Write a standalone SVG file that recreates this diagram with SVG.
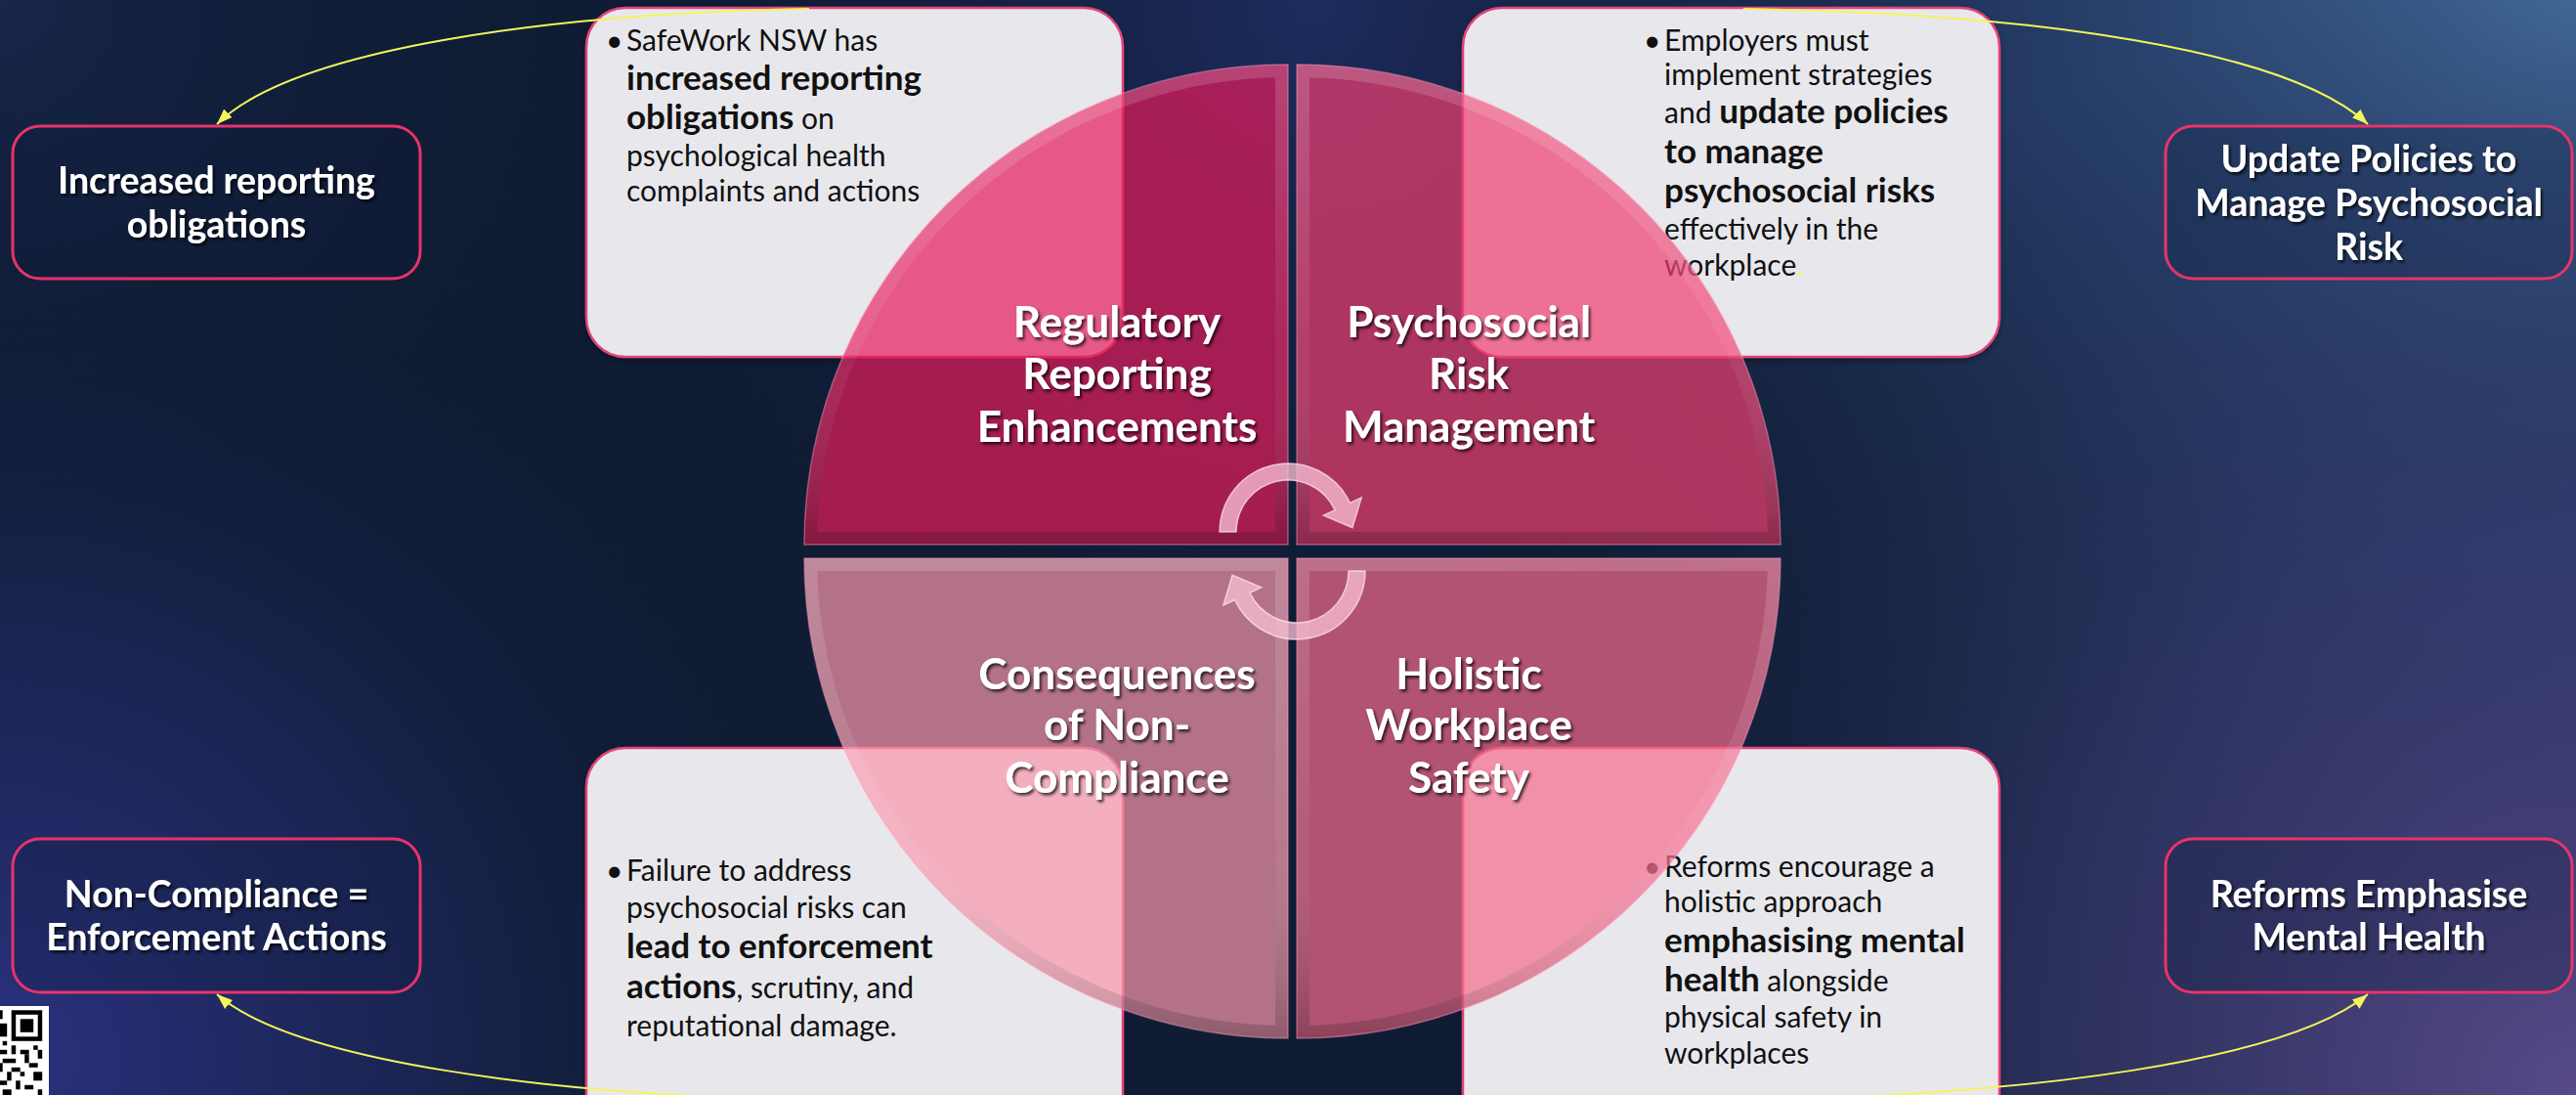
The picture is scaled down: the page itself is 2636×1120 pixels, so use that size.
<svg xmlns="http://www.w3.org/2000/svg" width="2636" height="1120" viewBox="0 0 2636 1120">
<defs>
<radialGradient id="bgTR" gradientUnits="userSpaceOnUse" cx="2636" cy="0" r="1300"><stop offset="0" stop-color="#42699a"/><stop offset="0.45" stop-color="#2c4676" stop-opacity="0.7"/><stop offset="1" stop-color="#0f1c34" stop-opacity="0"/></radialGradient>
<radialGradient id="bgBR" gradientUnits="userSpaceOnUse" cx="2636" cy="1120" r="1150"><stop offset="0" stop-color="#584a8a"/><stop offset="0.5" stop-color="#3a3a70" stop-opacity="0.6"/><stop offset="1" stop-color="#0f1c34" stop-opacity="0"/></radialGradient>
<radialGradient id="bgBL" gradientUnits="userSpaceOnUse" cx="0" cy="1080" r="850"><stop offset="0" stop-color="#2a3280"/><stop offset="0.5" stop-color="#222a66" stop-opacity="0.6"/><stop offset="1" stop-color="#0f1c34" stop-opacity="0"/></radialGradient>
<radialGradient id="bgT" gradientUnits="userSpaceOnUse" cx="1350" cy="0" r="750"><stop offset="0" stop-color="#22306a" stop-opacity="0.8"/><stop offset="1" stop-color="#0f1c34" stop-opacity="0"/></radialGradient>
<radialGradient id="bgTL" gradientUnits="userSpaceOnUse" cx="0" cy="0" r="600"><stop offset="0" stop-color="#17264a"/><stop offset="1" stop-color="#0f1c34" stop-opacity="0"/></radialGradient>
<linearGradient id="bev" x1="0" y1="0" x2="0" y2="1"><stop offset="0" stop-color="#fff" stop-opacity="0.16"/><stop offset="0.6" stop-color="#fff" stop-opacity="0.05"/><stop offset="1" stop-color="#000" stop-opacity="0.2"/></linearGradient>
<filter id="ts" x="-10%" y="-30%" width="120%" height="160%"><feDropShadow dx="2" dy="2.5" stdDeviation="1.5" flood-color="#000" flood-opacity="0.75"/></filter>
<filter id="cs" x="-5%" y="-5%" width="110%" height="110%"><feDropShadow dx="0" dy="3" stdDeviation="3" flood-color="#000" flood-opacity="0.35"/></filter>
<marker id="ah" viewBox="0 0 16 12" refX="16" refY="6" markerWidth="16" markerHeight="12" markerUnits="userSpaceOnUse" orient="auto"><path d="M0,0 L16,6 L0,12 z" fill="#f4f45c"/></marker>
<path id="pTL" d="M1318,557 L823,557 A495,491 0 0 1 1318,66 Z"/>
<path id="pTR" d="M1327,557 L1327,66 A495,491 0 0 1 1822,557 Z"/>
<path id="pBL" d="M1318,571 L1318,1062 A495,491 0 0 1 823,571 Z"/>
<path id="pBR" d="M1327,571 L1822,571 A495,491 0 0 1 1327,1062 Z"/>
<clipPath id="cTL"><use href="#pTL"/></clipPath>
<clipPath id="cTR"><use href="#pTR"/></clipPath>
<clipPath id="cBL"><use href="#pBL"/></clipPath>
<clipPath id="cBR"><use href="#pBR"/></clipPath>
<path id="arrowTop" d="M1248,544 A70,70 0 0 1 1381.4,514.4 L1393.2,508.9 L1383.9,539.7 L1354.3,527.1 L1366,521.6 A53,53 0 0 0 1265,544 Z"/>
</defs>
<style>
.lbox{fill:#0f1a3a;fill-opacity:0.25;stroke:#e8336b;stroke-width:3}
.call{fill:#e8e8ec;stroke:#e2437a;stroke-width:2.5}
.lbl{font-family:Lato,"Open Sans",sans-serif;font-weight:700;font-size:37.5px;fill:#fff;text-anchor:middle;filter:url(#ts)}
.ql{font-size:44px}
.ct{font-family:Lato,"Open Sans",sans-serif;font-size:30px;fill:#111}
.b{font-weight:700;font-size:35px}
.bev{fill:none;stroke:url(#bev);stroke-width:26}
.qo{fill:none;stroke:#ff9cc0;stroke-opacity:0.45;stroke-width:1.5}
.con{fill:none;stroke:#f4f45c;stroke-width:2;marker-end:url(#ah)}
.cyc{fill:#f6bcd2;fill-opacity:0.78;stroke:#ffe8f0;stroke-opacity:0.7;stroke-width:1.5}
</style>
<g id="background">
<rect width="2636" height="1120" fill="#0f1c34"/>
<rect width="2636" height="1120" fill="url(#bgTL)"/>
<rect width="2636" height="1120" fill="url(#bgT)"/>
<rect width="2636" height="1120" fill="url(#bgTR)"/>
<rect width="2636" height="1120" fill="url(#bgBR)"/>
<rect width="2636" height="1120" fill="url(#bgBL)"/>
</g>
<g id="box-increased-reporting">
<rect class="lbox" x="13" y="129" width="417" height="156" rx="28"/>
<text class="lbl"><tspan x="221.5" y="198">Increased reporting</tspan><tspan x="221.5" y="243">obligations</tspan></text>
</g>
<g id="box-update-policies">
<rect class="lbox" x="2216" y="129" width="416" height="156" rx="28"/>
<text class="lbl"><tspan x="2424" y="176">Update Policies to</tspan><tspan x="2424" y="221">Manage Psychosocial</tspan><tspan x="2424" y="266">Risk</tspan></text>
</g>
<g id="box-non-compliance">
<rect class="lbox" x="13" y="858" width="417" height="157" rx="28"/>
<text class="lbl"><tspan x="221.5" y="928">Non-Compliance =</tspan><tspan x="221.5" y="972">Enforcement Actions</tspan></text>
</g>
<g id="box-reforms">
<rect class="lbox" x="2216" y="858" width="416" height="157" rx="28"/>
<text class="lbl"><tspan x="2424" y="928">Reforms Emphasise</tspan><tspan x="2424" y="972">Mental Health</tspan></text>
</g>
<g id="callout-reporting">
<rect class="call" filter="url(#cs)" x="600" y="8" width="549" height="357" rx="40"/>
<text class="ct"><tspan x="620" y="52">•</tspan><tspan x="641" y="52">SafeWork NSW has</tspan><tspan x="641" y="92" class="b">increased reporting</tspan><tspan x="641" y="132" class="b">obligations</tspan><tspan> on</tspan><tspan x="641" y="170">psychological health</tspan><tspan x="641" y="206">complaints and actions</tspan></text>
</g>
<g id="callout-psychosocial">
<rect class="call" filter="url(#cs)" x="1497" y="8" width="549" height="357" rx="40"/>
<text class="ct"><tspan x="1682" y="52">•</tspan><tspan x="1703" y="52">Employers must</tspan><tspan x="1703" y="87">implement strategies</tspan><tspan x="1703" y="126">and </tspan><tspan class="b">update policies</tspan><tspan x="1703" y="167" class="b">to manage</tspan><tspan x="1703" y="207" class="b">psychosocial risks</tspan><tspan x="1703" y="245">effectively in the</tspan><tspan x="1703" y="282">workplace</tspan><tspan fill="#f4f45c">.</tspan></text>
</g>
<g id="callout-consequences">
<rect class="call" filter="url(#cs)" x="600" y="765" width="549" height="400" rx="40"/>
<text class="ct"><tspan x="620" y="901">•</tspan><tspan x="641" y="901">Failure to address</tspan><tspan x="641" y="939">psychosocial risks can</tspan><tspan x="641" y="980" class="b">lead to enforcement</tspan><tspan x="641" y="1021" class="b">actions</tspan><tspan>, scrutiny, and</tspan><tspan x="641" y="1060">reputational damage.</tspan></text>
</g>
<g id="callout-holistic">
<rect class="call" filter="url(#cs)" x="1497" y="765" width="549" height="400" rx="40"/>
<text class="ct"><tspan x="1682" y="897">•</tspan><tspan x="1703" y="897">Reforms encourage a</tspan><tspan x="1703" y="933">holistic approach</tspan><tspan x="1703" y="974" class="b">emphasising mental</tspan><tspan x="1703" y="1014" class="b">health</tspan><tspan> alongside</tspan><tspan x="1703" y="1051">physical safety in</tspan><tspan x="1703" y="1088">workplaces</tspan></text>
</g>
<g id="quadrant-regulatory">
<use href="#pTL" fill="#e51d5c" fill-opacity="0.7"/>
<use href="#pTL" class="bev" clip-path="url(#cTL)"/>
<use href="#pTL" class="qo"/>
<text class="lbl ql"><tspan x="1143" y="345">Regulatory</tspan><tspan x="1143" y="398">Reporting</tspan><tspan x="1143" y="452">Enhancements</tspan></text>
</g>
<g id="quadrant-psychosocial">
<use href="#pTR" fill="#f03e71" fill-opacity="0.7"/>
<use href="#pTR" class="bev" clip-path="url(#cTR)"/>
<use href="#pTR" class="qo"/>
<text class="lbl ql"><tspan x="1503" y="345">Psychosocial</tspan><tspan x="1503" y="398">Risk</tspan><tspan x="1503" y="452">Management</tspan></text>
</g>
<g id="quadrant-consequences">
<use href="#pBL" fill="#f997ac" fill-opacity="0.7"/>
<use href="#pBL" class="bev" clip-path="url(#cBL)"/>
<use href="#pBL" class="qo"/>
<text class="lbl ql"><tspan x="1143" y="705">Consequences</tspan><tspan x="1143" y="757">of Non-</tspan><tspan x="1143" y="811">Compliance</tspan></text>
</g>
<g id="quadrant-holistic">
<use href="#pBR" fill="#f66b8c" fill-opacity="0.7"/>
<use href="#pBR" class="bev" clip-path="url(#cBR)"/>
<use href="#pBR" class="qo"/>
<text class="lbl ql"><tspan x="1503" y="705">Holistic</tspan><tspan x="1503" y="757">Workplace</tspan><tspan x="1503" y="811">Safety</tspan></text>
</g>
<g id="connectors">
<path class="con" d="M828,9 C560,14 300,50 222,127"/>
<path class="con" d="M1784,9 C2080,14 2340,50 2423,127"/>
<path class="con" d="M830,1125 C560,1120 300,1085 222,1017"/>
<path class="con" d="M1784,1125 C2080,1120 2340,1085 2423,1017"/>
<use href="#arrowTop" class="cyc"/>
<use href="#arrowTop" class="cyc" transform="rotate(180 1322.5 564)"/>
</g>
<g id="qr-code">
<rect x="-2" y="1029" width="52" height="95" fill="#fff"/>
<rect x="11.7" y="1033.3" width="31.5" height="31.5" fill="#000"/>
<rect x="16.2" y="1037.8" width="22.5" height="22.5" fill="#fff"/>
<rect x="20.7" y="1042.3" width="13.5" height="13.5" fill="#000"/>
<g fill="#000">
<rect x="-1.8" y="1033.3" width="4.5" height="9"/>
<rect x="-1.8" y="1046.8" width="9" height="13.5"/>
<rect x="2.7" y="1064.8" width="4.5" height="4.5"/>
<rect x="-1.8" y="1073.8" width="9" height="4.5"/>
<rect x="11.7" y="1069.3" width="4.5" height="9"/>
<rect x="20.7" y="1073.8" width="9" height="4.5"/>
<rect x="34.2" y="1069.3" width="4.5" height="4.5"/>
<rect x="38.7" y="1073.8" width="4.5" height="9"/>
<rect x="2.7" y="1082.8" width="13.5" height="4.5"/>
<rect x="25.2" y="1078.3" width="4.5" height="9"/>
<rect x="-1.8" y="1087.3" width="4.5" height="9"/>
<rect x="11.7" y="1091.8" width="9" height="4.5"/>
<rect x="29.7" y="1087.3" width="9" height="4.5"/>
<rect x="7.2" y="1096.3" width="4.5" height="9"/>
<rect x="20.7" y="1096.3" width="4.5" height="4.5"/>
<rect x="34.2" y="1096.3" width="9" height="9"/>
<rect x="-1.8" y="1105.3" width="9" height="4.5"/>
<rect x="16.2" y="1105.3" width="4.5" height="9"/>
<rect x="25.2" y="1109.8" width="9" height="4.5"/>
<rect x="2.7" y="1114.3" width="9" height="6"/>
<rect x="38.7" y="1114.3" width="4.5" height="6"/>
</g>
</g>
</svg>
